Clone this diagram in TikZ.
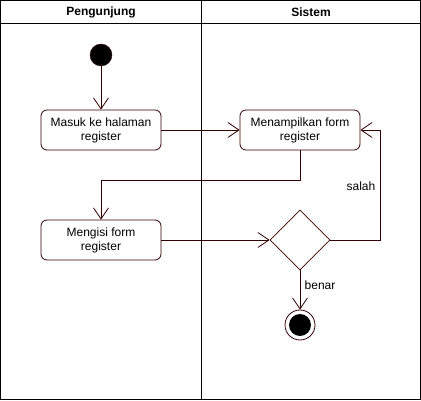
\documentclass[tikz,border=0pt]{standalone}
\usepackage{fontspec}
\setmainfont{Liberation Sans}
\usetikzlibrary{arrows.meta,shapes.geometric}
\definecolor{flowline}{HTML}{330000}
\begin{document}
\begin{tikzpicture}[x=1pt, y=-1pt,
        lane/.style={draw=black, line width=0.8pt},
        lanetitle/.style={font=\fontsize{12}{14}\selectfont\bfseries},
        activity/.style={rectangle, draw=flowline, rounded corners=6pt, minimum width=120pt, minimum height=40pt, align=center, font=\fontsize{12}{14}\selectfont, line width=0.8pt},
        decision/.style={diamond, draw=flowline, aspect=1, minimum size=60pt, inner sep=0pt, line width=0.8pt},
        guard/.style={font=\fontsize{12}{14}\selectfont},
        arrow/.style={-{Straight Barb[length=11pt,width=15pt]}, draw=flowline, line width=0.8pt}
    ]
        \useasboundingbox (0,0) rectangle (421,401);
        % Swimlanes
        \draw[lane] (0.5,0.5) rectangle (420.5,399.5);
        \draw[lane] (0.5,23) -- (420.5,23);
        \draw[lane] (201,0.5) -- (201,399.5);
        \node[lanetitle] (pengunjung) at (101,12) {Pengunjung};
        \node[lanetitle] (sistem) at (311,12) {Sistem};
        
        % Start and end
        \node[circle, fill=black, draw=flowline, minimum size=22pt, inner sep=0pt] (start) at (101,55) {};
        \node[circle, draw=flowline, minimum size=30pt, inner sep=0pt, line width=0.8pt] (finish) at (300,325) {};
        \node[circle, fill=black, minimum size=22pt, inner sep=0pt] (finishdot) at (300,325) {};
        
        % Activities
        \node[activity] (masuk) at (101,130) {Masuk ke halaman\\register};
        \node[activity] (tampil) at (300,130) {Menampilkan form\\register};
        \node[activity] (isi) at (101,240) {Mengisi form\\register};
        \node[decision] (cek) at (300,240) {};
        
        % Connect activities
        \draw[arrow] (start) -- (masuk);
        \draw[arrow] (masuk) -- (tampil);
        \draw[arrow] (tampil.south) -- (300,180) -- (101,180) -- (isi.north);
        \draw[arrow] (isi) -- (cek.west);
        \draw[arrow] (cek.east) -- (380,240) -- (380,130) -- (tampil.east);
        \draw[arrow] (cek.south) -- (finish.north);
        
        % Guards
        \node[guard] (salah) at (361,186) {salah};
        \node[guard] (benar) at (320,285) {benar};
    \end{tikzpicture}
\end{document}
